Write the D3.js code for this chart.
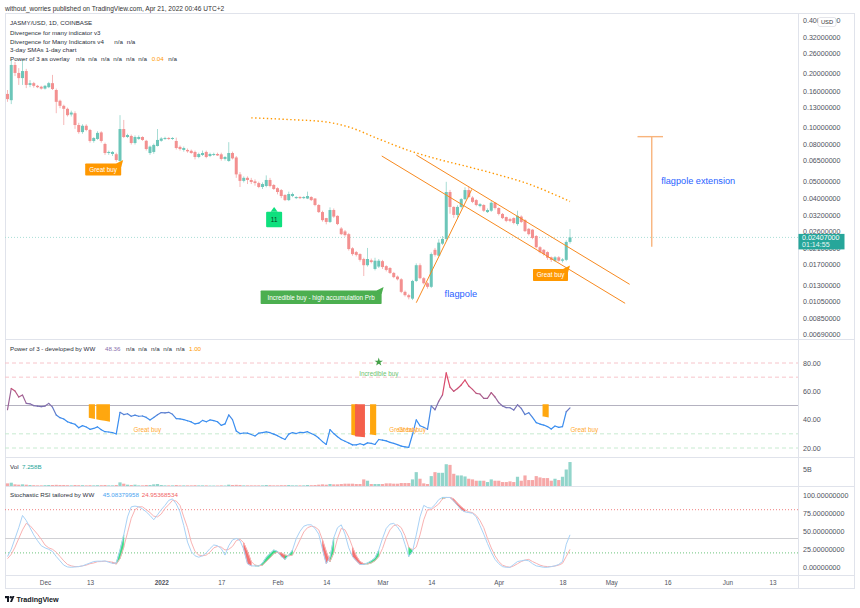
<!DOCTYPE html>
<html>
<head>
<meta charset="utf-8">
<script src="https://cdn.jsdelivr.net/npm/d3@7"></script>
<style>
  body { margin: 0; background: #fff; }
  svg { display: block; font-family: "Liberation Sans", Arial, sans-serif; }
</style>
</head>
<body>
<svg id="chart" width="860" height="608"></svg>
<script>
// ---- data ----
const firstDay = Date.UTC(2021, 10, 21)   // first daily candle
const DAY = 86400000

// [open, high, low, close] per day
const candles = [
  [0.154,0.162,0.139,0.144],[0.142,0.239,0.135,0.224],[0.224,0.233,0.194,0.202],[0.202,0.215,0.173,0.189],[0.189,0.239,0.173,0.207],
  [0.207,0.213,0.166,0.173],[0.173,0.184,0.168,0.177],[0.177,0.180,0.167,0.171],[0.171,0.173,0.166,0.168],[0.169,0.171,0.163,0.165],
  [0.165,0.173,0.163,0.171],[0.168,0.180,0.166,0.177],[0.177,0.197,0.162,0.164],[0.162,0.165,0.120,0.139],[0.141,0.143,0.128,0.132],
  [0.132,0.134,0.103,0.127],[0.127,0.129,0.115,0.117],[0.118,0.124,0.115,0.121],[0.120,0.123,0.098,0.103],[0.103,0.106,0.092,0.094],
  [0.094,0.104,0.092,0.102],[0.102,0.104,0.095,0.0966],[0.0966,0.098,0.082,0.0838],[0.0838,0.088,0.082,0.0871],[0.086,0.095,0.085,0.093],
  [0.0936,0.095,0.082,0.0838],[0.0806,0.082,0.070,0.0717],[0.0717,0.074,0.070,0.0727],[0.0708,0.0735,0.069,0.0727],[0.0706,0.072,0.064,0.0655],
  [0.0647,0.117,0.064,0.0978],[0.0978,0.110,0.087,0.0882],[0.0882,0.092,0.087,0.0905],[0.0894,0.091,0.080,0.0816],[0.0816,0.090,0.080,0.0882],
  [0.086,0.090,0.085,0.0882],[0.0882,0.089,0.084,0.0849],[0.084,0.085,0.074,0.0755],[0.0717,0.079,0.070,0.0779],[0.0727,0.081,0.071,0.0796],
  [0.0785,0.0978,0.078,0.0849],[0.084,0.088,0.083,0.0865],[0.086,0.0885,0.085,0.0871],[0.0871,0.088,0.085,0.086],[0.086,0.088,0.085,0.0871],
  [0.0838,0.0875,0.075,0.0765],[0.0776,0.079,0.074,0.0755],[0.0746,0.078,0.073,0.0765],[0.0746,0.076,0.072,0.0733],[0.0738,0.075,0.071,0.0717],
  [0.0727,0.074,0.066,0.0681],[0.0681,0.072,0.067,0.0708],[0.0699,0.074,0.069,0.0717],[0.0727,0.074,0.067,0.0681],[0.069,0.072,0.068,0.0708],
  [0.0699,0.072,0.069,0.0708],[0.0708,0.072,0.069,0.0695],[0.0705,0.072,0.065,0.0664],[0.0664,0.069,0.065,0.0681],[0.0647,0.0825,0.064,0.0717],
  [0.0717,0.073,0.066,0.0669],[0.0677,0.069,0.052,0.0544],[0.0544,0.056,0.0462,0.050],[0.050,0.053,0.049,0.052],[0.052,0.053,0.048,0.0506],
  [0.0506,0.052,0.048,0.0493],[0.0497,0.051,0.047,0.0486],[0.0486,0.0495,0.0455,0.0462],[0.0462,0.049,0.045,0.048],[0.0468,0.0537,0.046,0.0506],
  [0.0506,0.052,0.046,0.0468],[0.0474,0.048,0.0445,0.045],[0.0455,0.046,0.042,0.0433],[0.0444,0.045,0.040,0.0411],[0.0417,0.042,0.0385,0.039],
  [0.039,0.0435,0.0385,0.0422],[0.0411,0.043,0.0405,0.0422],[0.040,0.041,0.0395,0.0406],[0.0406,0.041,0.0395,0.040],[0.040,0.041,0.0395,0.0406],
  [0.0398,0.0435,0.0395,0.0411],[0.0406,0.041,0.0385,0.039],[0.0398,0.040,0.036,0.0366],[0.0366,0.037,0.033,0.0334],[0.0334,0.034,0.0295,0.0301],
  [0.0309,0.031,0.0285,0.0294],[0.0294,0.0355,0.029,0.0343],[0.0343,0.035,0.031,0.0315],[0.0318,0.032,0.0282,0.0286],[0.0270,0.0275,0.0248,0.0251],
  [0.026,0.0265,0.0243,0.0248],[0.0251,0.0255,0.0203,0.0207],[0.0209,0.0212,0.019,0.0194],[0.0199,0.0202,0.0188,0.0192],[0.0194,0.0196,0.0176,0.018],
  [0.0182,0.0185,0.0146,0.0168],[0.0168,0.021,0.0165,0.0182],[0.0179,0.0183,0.0172,0.0175],[0.016,0.0185,0.0157,0.0178],[0.0165,0.0182,0.0162,0.0178],
  [0.0177,0.018,0.016,0.0164],[0.0166,0.0168,0.0155,0.0158],[0.0162,0.0164,0.015,0.0152],[0.0152,0.0154,0.0142,0.0144],[0.0145,0.0147,0.0138,0.014],
  [0.014,0.0142,0.0117,0.0119],[0.0119,0.0121,0.0112,0.0114],[0.0114,0.0116,0.0108,0.0111],[0.0109,0.0139,0.0107,0.0137],[0.0137,0.0172,0.0135,0.0168],
  [0.0168,0.0172,0.014,0.0142],[0.0142,0.0144,0.0131,0.0133],[0.0133,0.0135,0.0124,0.0127],[0.0127,0.0198,0.0125,0.0194],[0.0205,0.021,0.0188,0.0192],
  [0.019,0.0235,0.0188,0.0225],[0.0222,0.0245,0.0218,0.0236],[0.0236,0.0494,0.023,0.0433],[0.0433,0.0445,0.0327,0.0357],[0.0357,0.036,0.031,0.0322],
  [0.0322,0.0365,0.031,0.0357],[0.0357,0.040,0.035,0.0395],[0.0395,0.046,0.039,0.0444],[0.0444,0.0465,0.040,0.0406],[0.0403,0.041,0.0375,0.0381],
  [0.039,0.0395,0.036,0.0366],[0.0361,0.0375,0.0355,0.037],[0.0366,0.037,0.0335,0.034],[0.0334,0.035,0.033,0.0343],[0.034,0.0385,0.0335,0.0377],
  [0.0377,0.038,0.0345,0.0352],[0.0352,0.0355,0.032,0.0326],[0.0326,0.033,0.0305,0.0309],[0.0313,0.0315,0.0293,0.0298],[0.0305,0.031,0.0293,0.0298],
  [0.0309,0.0312,0.0285,0.029],[0.0286,0.034,0.028,0.0318],[0.0315,0.032,0.029,0.0294],[0.0301,0.0305,0.0258,0.0261],[0.0269,0.0272,0.0247,0.0251],
  [0.0266,0.0268,0.0235,0.0239],[0.0245,0.0248,0.0209,0.0212],[0.0212,0.0215,0.0196,0.0199],[0.0205,0.0207,0.019,0.0194],[0.0199,0.0201,0.018,0.0185],
  [0.0186,0.0188,0.0175,0.018],[0.0178,0.0189,0.0175,0.0186],[0.0186,0.0189,0.0176,0.0178],[0.0178,0.0184,0.0174,0.0181],[0.018,0.0232,0.0177,0.0227],
  [0.0227,0.0268,0.0222,0.02407]
]

// volume, billions
const volumes = [
  0.8,1.0,0.5,0.4,0.5,0.4,0.3,0.25,0.2,0.2, 0.25,0.3,0.3,0.35,0.3,0.3,0.25,0.2,0.3,0.25,
  0.25,0.2,0.25,0.2,0.25,0.25,0.3,0.2,0.2,0.3, 1.1,0.7,0.4,0.3,0.4,0.2,0.2,0.3,0.3,0.5,
  0.6,0.3,0.2,0.2,0.2,0.3,0.2,0.2,0.2,0.2, 0.25,0.2,0.2,0.2,0.15,0.15,0.15,0.2,0.15,0.4,
  0.3,0.35,0.3,0.2,0.2,0.2,0.2,0.2,0.2,0.3, 0.25,0.2,0.2,0.25,0.25,0.3,0.2,0.2,0.2,0.2,
  0.3,0.25,0.3,0.4,0.5,0.4,0.6,0.5,0.5,0.6, 0.7,0.7,0.7,0.6,0.6,2.0,1.6,0.6,0.6,0.6,
  0.6,0.8,0.8,0.7,0.7,0.9,0.9,0.9,2.0,4.2, 2.2,0.8,0.6,3.0,4.2,4.0,4.0,6.6,6.4,3.7,
  3.2,3.2,2.9,2.2,2.0,1.6,1.6,1.6,1.2,2.0, 1.6,1.6,1.2,1.2,1.4,1.2,2.8,1.6,3.2,1.8,
  1.8,3.0,2.6,2.4,2.4,1.6,2.2,1.8,2.8,5.0, 7.258
]

// "Power of 3" oscillator
const power3 = [
  47,62,60.2,56,57.4,51.5,51.2,49.9,49.5,49.2, 49.6,51.5,48.8,43.3,41.4,40.5,38.5,37.6,36.8,34.3,
  35.8,34.8,33.2,33.8,34.9,32.9,31.5,31.3,30.9,29.9, 45.2,43.6,44.2,42.4,43.2,42.4,42.6,41.6,39.8,41.6,
  43.5,45,44.8,45.2,43.8,40.8,40.5,40,39.2,38.4, 37,37.5,39.5,38.5,39.8,39.3,38.5,36,37,43.3,
  40,32,30.2,30.6,30.5,29.5,28.5,30.5,30.8,31.4, 30.8,29.8,28.7,27.2,26,29.8,30.9,30.2,31,30.9,
  31.5,30.2,29,27,24.5,22.5,33,30.2,28,26, 24.8,23.5,22.2,22.2,23,22.2,23.6,23.3,22.5,26,
  25.5,25,24,23.3,22.4,21.3,20.8,20.5,29.5,39.8, 35.7,34.6,33.2,49.7,47,53,57.5,73,63,60,
  62,64.5,68,63.8,61.4,58.6,58.1,55.1,55.1,59.1, 56,52,49.7,48.5,48.4,46.8,50.5,48,43.6,44.9,
  41.6,37.9,36.9,36.2,35.1,33.4,35.5,34.6,35.1,45.6, 48.36
]
// signal columns hanging from the 50 line: [day index, value] lists
const powerSignals = [
  { type: 'great', pts: [[23, 42], [24, 41.5]] },
  { type: 'great', pts: [[25, 41], [26, 40.5], [27, 40], [28, 39.5]] },
  { type: 'great', pts: [[93, 30], [94, 29.5]] },
  { type: 'incredible', pts: [[94, 29], [95, 28.8], [96, 28.5]] },
  { type: 'great', pts: [[98, 30.3], [99, 30]] },
  { type: 'great', pts: [[144, 43], [145, 42.6]] }
]

// Stochastic RSI
const stochK = [
  15,25,40,55,72,65,55,45,37,30, 27,25,22,15,9,3,0.5,0,0.5,1,
  2,4,6,8,8.5,8.5,8.8,7,5.5,6, 24,45,70,84,85,84,81,77,72,66,
  73,80,86,93,95,88,77,58,35,22, 16,14,16,20,26,31,30,26,17,30,
  38,40,37,25,5,2,1.8,1.8,6,14, 19,24,22,15,11,17,24,40,50,57,
  59,59,54,46,25,5,14,41,55,59, 46,27,15,9,4,4,6,9,13,24,
  40,54,60,61,56,48,32,15,22,45, 70,86,83,82,87,94,97,97,97,92,
  86,80,77,76,75,70,58,46,33,21, 11,5,1,0,0,4,8,9,10,9,
  5,2,1,0,0,1,2,4,8,32, 45.08
]
const stochD = [
  12,18,28,40,52,61,58,52,46,39, 31,27,25,21,15,9,4,2,1,1,
  2,3,5,6,7.8,8,8.5,8,7,4.5, 12,28,48,68,80,84,84,80,76,71,
  70,74,82,87,93,92,86,70,55,35, 22,17,16,17,21,27,29,28,24,25,
  29,37,39,34,22,8,3,2,3,8, 13,19,21,20,17,16,17,27,38,49,
  55,57,56,52,38,22,8,20,40,54, 52,42,28,16,8,5,4.5,6,9,15,
  26,41,52,58,59,55,44,28,24,28, 45,66,80,80,84,88,95,97,97,95,
  89,84,80,77,76,72,65,55,40,27, 16,8,3,1,0,2,5,8,10,11,
  8,5.5,3,1.5,1,1,1.8,3,5.5,15, 24.95
]
const stochFills = [[29,30,'down'],[30,32,'up'],[64,66,'down'],[67,73,'up'],[73,75,'down'],[75,77,'up'],
  [85,87,'down'],[87,88,'up'],[93,96,'down'],[96,100,'up'],[108,109,'up'],[117,118,'up'],[119,123,'down']]

// dotted SMA overlay, [day index, price]
const smaPoints = [[66,0.113],[76,0.1106],[86,0.1071],[92,0.1004],[100,0.086],[108,0.0741],[116,0.066],
  [124,0.0599],[132,0.054],[140,0.048],[146,0.0427],[151,0.0383]]

// drawn trend lines, [day index, price] pairs
const trendLines = [
  [[110, 0.01034], [124.8, 0.0448]],   // flagpole
  [[100.8, 0.069], [165.7, 0.01026]],  // channel lower
  [[110, 0.0699], [166.9, 0.01312]]    // channel upper
]
const poleExtension = { idx: 172.8, top: 0.0886, bottom: 0.02134, capFrom: 169, capTo: 175.8 }

const lastPrice = 0.02407
const priceTicks = [0.4,0.32,0.26,0.2,0.16,0.13,0.1,0.08,0.065,0.05,0.04,0.032,0.026,0.021,0.017,0.013,0.0105,0.0085,0.0069]
const powerTicks = [80, 60, 40, 20]
const stochTicks = [100, 75, 50, 25, 0]
const volTicks = [5]
const tickDates = [[2021,11,1],[2021,11,13],[2022,0,1],[2022,0,17],[2022,1,1],[2022,1,14],[2022,2,1],
  [2022,2,14],[2022,3,1],[2022,3,18],[2022,4,1],[2022,4,16],[2022,5,1],[2022,5,13]].map(d => new Date(Date.UTC(...d)))
const tickLabels = ['Dec','13','2022','17','Feb','14','Mar','14','Apr','18','May','16','Jun','13']

// ---- layout ----
const left = 5, plotRight = 798, axisRight = 854
const paneMain = { top: 13, bottom: 339 }
const panePower = { top: 339, bottom: 457 }
const paneVol = { top: 457, bottom: 486 }
const paneStoch = { top: 486, bottom: 575 }
const frameBottom = 588

const upColor = '#6cc6b9', downColor = '#f39090'
const upWick = '#a6dcd4', downWick = '#f6b8b8'
const volUp = '#92d5cb', volDown = '#f6a8a8'
const orange = '#ff9800'
const axisColor = '#50535e'
const lineColor = '#e0e3eb'
const legendSize = 6.2
const axisSize = 7.1
const timeSize = 6.4

const svg = d3.select('#chart')
const dateAt = i => new Date(firstDay + (i - 1) * DAY)

const x = d3.scaleUtc()
  .domain([new Date(Date.UTC(2021, 11, 1)), new Date(Date.UTC(2022, 5, 13))])
  .range([45, 772.5])
const xi = i => x(dateAt(i))
const y = d3.scaleLog().domain([0.1, 0.01]).range([127.3, 305.3])
const yp = d3.scaleLinear().domain([80, 20]).range([363, 448])
const yv = d3.scaleLinear().domain([0, 5]).range([486, 469.5])
const ys = d3.scaleLinear().domain([100, 0]).range([495.3, 567.3])

// clip paths
const defs = svg.append('defs')
function clip(id, pane) {
  defs.append('clipPath').attr('id', id).append('rect')
    .attr('x', left).attr('y', pane.top).attr('width', plotRight - left).attr('height', pane.bottom - pane.top)
}
clip('clipMain', paneMain)
clip('clipPower', panePower)
clip('clipVol', paneVol)
clip('clipStoch', paneStoch)

// ---- frame & separators ----
const frame = svg.append('g').attr('stroke', lineColor).attr('stroke-width', 1)
frame.append('rect').attr('x', left + 0.5).attr('y', paneMain.top + 0.5)
  .attr('width', axisRight - left).attr('height', frameBottom - paneMain.top).attr('fill', 'none')
;[panePower.top, paneVol.top, paneStoch.top, paneStoch.bottom].forEach(v => {
  frame.append('line').attr('x1', left).attr('x2', axisRight).attr('y1', v + 0.5).attr('y2', v + 0.5)
})
frame.append('line').attr('x1', plotRight + 0.5).attr('x2', plotRight + 0.5).attr('y1', paneMain.top).attr('y2', frameBottom)

// ---- main pane ----
const mainG = svg.append('g').attr('clip-path', 'url(#clipMain)')

mainG.append('line')
  .attr('x1', left).attr('x2', plotRight).attr('y1', y(lastPrice)).attr('y2', y(lastPrice))
  .attr('stroke', '#a9ded6').attr('stroke-dasharray', '1,2').attr('stroke-width', 1)

mainG.selectAll('line.wick').data(candles).join('line').attr('class', 'wick')
  .attr('x1', (d, i) => xi(i + 1)).attr('x2', (d, i) => xi(i + 1))
  .attr('y1', d => y(d[1])).attr('y2', d => y(d[2]))
  .attr('stroke', d => d[3] >= d[0] ? upWick : downWick).attr('stroke-width', 1)

mainG.selectAll('rect.body').data(candles).join('rect').attr('class', 'body')
  .attr('x', (d, i) => xi(i + 1) - 1.5).attr('width', 3)
  .attr('y', d => y(Math.max(d[0], d[3])))
  .attr('height', d => Math.max(1, Math.abs(y(d[0]) - y(d[3]))))
  .attr('fill', d => d[3] >= d[0] ? upColor : downColor)

// dotted SMA
mainG.append('path').datum(smaPoints)
  .attr('d', d3.line().curve(d3.curveMonotoneX).x(d => xi(d[0])).y(d => y(d[1])))
  .attr('fill', 'none').attr('stroke', orange).attr('stroke-width', 1.4)
  .attr('stroke-dasharray', '1.4,2.5')

// trend lines
mainG.selectAll('line.trend').data(trendLines).join('line').attr('class', 'trend')
  .attr('x1', d => xi(d[0][0])).attr('y1', d => y(d[0][1]))
  .attr('x2', d => xi(d[1][0])).attr('y2', d => y(d[1][1]))
  .attr('stroke', '#f7891f').attr('stroke-width', 1)

// flagpole extension
const ext = mainG.append('g').attr('stroke', '#f8b47c').attr('stroke-width', 1.4)
ext.append('line').attr('x1', xi(poleExtension.idx)).attr('x2', xi(poleExtension.idx))
  .attr('y1', y(poleExtension.top)).attr('y2', y(poleExtension.bottom))
ext.append('line').attr('x1', xi(poleExtension.capFrom)).attr('x2', xi(poleExtension.capTo))
  .attr('y1', y(poleExtension.top)).attr('y2', y(poleExtension.top))

mainG.append('text').attr('x', xi(121.9)).attr('y', y(0.01158)).attr('dy', '0.35em')
  .attr('text-anchor', 'middle').attr('font-size', 9.3).attr('fill', '#2962ff').text('flagpole')
mainG.append('text').attr('x', xi(175.3)).attr('y', y(0.0499)).attr('dy', '0.35em')
  .attr('font-size', 9.2).attr('fill', '#2962ff').text('flagpole extension')

// labels pointing up-right to a candle
function tagUpRight(idx, price, w, h, fill, label) {
  const tx = xi(idx), ty = y(price)
  const g = mainG.append('g')
  g.append('rect').attr('x', tx - 2 - w).attr('y', ty + 3.5).attr('width', w).attr('height', h)
    .attr('fill', fill).attr('rx', 0.8)
  g.append('path').attr('d', `M${tx - 7},${ty + 3.6} L${tx},${ty} L${tx - 2},${ty + 7}Z`).attr('fill', fill)
  g.append('text').attr('x', tx - 2 - w / 2).attr('y', ty + 3.5 + h / 2).attr('dy', '0.35em')
    .attr('text-anchor', 'middle').attr('font-size', 6.3).attr('fill', '#fff').text(label)
}
tagUpRight(31.85, 0.0655, 36, 12, orange, 'Great buy')
tagUpRight(151, 0.01675, 35, 12, orange, 'Great buy')
tagUpRight(101.3, 0.01267, 121, 13.6, '#4caf50', 'Incredible buy - high accumulation Prb')

// "11" label-up marker
{
  const tx = xi(72.1), ty = y(0.0357)
  const g = mainG.append('g')
  g.append('path').attr('d', `M${tx - 3.5},${ty + 4.8} L${tx},${ty} L${tx + 3.5},${ty + 4.8}Z`).attr('fill', '#0fe07e')
  g.append('rect').attr('x', tx - 8).attr('y', ty + 4.7).attr('width', 16).attr('height', 15.6)
    .attr('rx', 1).attr('fill', '#0fe07e')
  g.append('text').attr('x', tx).attr('y', ty + 12.5).attr('dy', '0.35em').attr('text-anchor', 'middle')
    .attr('font-size', 6.3).attr('fill', '#0b3b22').text('11')
}

// ---- power of 3 pane ----
const powG = svg.append('g').attr('clip-path', 'url(#clipPower)')
;[[80, '#f7c4ca'], [70, '#f7c4ca'], [30, '#c7ead0'], [20, '#c7ead0']].forEach(([v, c]) => {
  powG.append('line').attr('x1', left).attr('x2', plotRight).attr('y1', yp(v)).attr('y2', yp(v))
    .attr('stroke', c).attr('stroke-dasharray', '4,3')
})
powG.append('line').attr('x1', left).attr('x2', plotRight).attr('y1', yp(50)).attr('y2', yp(50))
  .attr('stroke', '#b4b2c0').attr('stroke-width', 1)

const sigArea = d3.area().x(d => xi(d[0])).y0(yp(50)).y1(d => yp(d[1]))
powG.selectAll('path.sig').data(powerSignals).join('path').attr('class', 'sig')
  .attr('d', d => sigArea(d.pts))
  .attr('fill', d => d.type === 'great' ? '#ffa70f' : '#f4604c')
  .attr('stroke', d => d.type === 'great' ? '#ffa70f' : '#f4604c').attr('stroke-width', 2.4)

const powerColor = d3.scaleLinear().domain([40, 50, 60, 72])
  .range(['#3a8ef0', '#7f6fae', '#c0537a', '#f2445e']).clamp(true)
powG.selectAll('line.pw').data(d3.range(power3.length - 1)).join('line').attr('class', 'pw')
  .attr('x1', i => xi(i + 1)).attr('y1', i => yp(power3[i]))
  .attr('x2', i => xi(i + 2)).attr('y2', i => yp(power3[i + 1]))
  .attr('stroke', i => powerColor((power3[i] + power3[i + 1]) / 2))
  .attr('stroke-width', 1.2).attr('stroke-linecap', 'round')

// star + labels
{
  const sx = xi(100), sy = yp(80.7)
  const star = d3.symbol().type(d3.symbolStar).size(22)
  powG.append('path').attr('d', star()).attr('transform', `translate(${sx},${sy})`).attr('fill', '#43a047')
  powG.append('text').attr('x', sx).attr('y', yp(72.2)).attr('dy', '0.35em').attr('text-anchor', 'middle')
    .attr('font-size', 6.3).attr('fill', '#6cc36f').text('Incredible buy')
}
;[38.3, 106.5, 108.9, 154.8].forEach(i => {
  powG.append('text').attr('x', xi(i)).attr('y', yp(32.7)).attr('dy', '0.35em').attr('text-anchor', 'middle')
    .attr('font-size', 6.3).attr('fill', '#ffaa33').text('Great buy')
})

// ---- volume pane ----
const volG = svg.append('g').attr('clip-path', 'url(#clipVol)')
volG.selectAll('rect').data(volumes).join('rect')
  .attr('x', (d, i) => xi(i + 1) - 1.6).attr('width', 3.2)
  .attr('y', d => yv(d)).attr('height', d => yv(0) - yv(d))
  .attr('fill', (d, i) => candles[i][3] >= candles[i][0] ? volUp : volDown)

// ---- stochastic RSI pane ----
const stG = svg.append('g').attr('clip-path', 'url(#clipStoch)')
stG.append('line').attr('x1', left).attr('x2', plotRight).attr('y1', ys(80)).attr('y2', ys(80))
  .attr('stroke', '#f08080').attr('stroke-dasharray', '1,2')
stG.append('line').attr('x1', left).attr('x2', plotRight).attr('y1', ys(40)).attr('y2', ys(40))
  .attr('stroke', '#cfd0d4')
stG.append('line').attr('x1', left).attr('x2', plotRight).attr('y1', ys(20)).attr('y2', ys(20))
  .attr('stroke', '#6cc47c').attr('stroke-dasharray', '1,2')

const fillArea = d3.area().x(i => xi(i)).y0(i => ys(stochK[i - 1])).y1(i => ys(stochD[i - 1]))
stG.selectAll('path.fill').data(stochFills).join('path').attr('class', 'fill')
  .attr('d', d => fillArea(d3.range(d[0], d[1] + 1)))
  .attr('fill', d => d[2] === 'up' ? '#19d873' : '#f25a5a')
  .attr('stroke', d => d[2] === 'up' ? '#19d873' : '#f25a5a').attr('stroke-width', 0.6)
  .attr('opacity', 0.85)

const stLine = d3.line().x((d, i) => xi(i + 1)).y(d => ys(d))
stG.append('path').datum(stochD).attr('d', stLine).attr('fill', 'none')
  .attr('stroke', '#f9b2b2').attr('stroke-width', 1)
stG.append('path').datum(stochK).attr('d', stLine).attr('fill', 'none')
  .attr('stroke', '#a9d2f6').attr('stroke-width', 1)

// ---- axes ----
function rightAxis(scale, ticks, fmt) {
  const g = svg.append('g').attr('transform', `translate(${plotRight},0)`)
    .call(d3.axisRight(scale).tickValues(ticks).tickFormat(fmt).tickSize(0).tickPadding(5))
  g.select('.domain').remove()
  g.selectAll('text').attr('font-size', axisSize).attr('fill', axisColor)
    .attr('font-family', '"Liberation Sans", Arial, sans-serif')
  return g
}
rightAxis(y, priceTicks, d3.format('.8f'))
rightAxis(yp, powerTicks, d3.format('.2f'))
rightAxis(yv, volTicks, d => d + 'B')
rightAxis(ys, stochTicks, d3.format('.8f'))

const xAxis = svg.append('g').attr('transform', `translate(0,${paneStoch.bottom})`)
  .call(d3.axisBottom(x).tickValues(tickDates).tickFormat((d, i) => tickLabels[i]).tickSize(0).tickPadding(5.3))
xAxis.select('.domain').remove()
xAxis.selectAll('text').attr('font-size', timeSize).attr('fill', axisColor)
  .attr('font-family', '"Liberation Sans", Arial, sans-serif')
  .attr('font-weight', (d, i) => tickLabels[i] === '2022' ? 'bold' : null)

// last price tag
{
  const g = svg.append('g')
  g.append('rect').attr('x', plotRight + 0.5).attr('y', y(lastPrice) - 3.5).attr('width', 46).attr('height', 15.5)
    .attr('fill', '#26a69a')
  g.append('text').attr('x', plotRight + 4).attr('y', y(lastPrice) + 2.4).attr('font-size', axisSize)
    .attr('fill', '#fff').text(d3.format('.8f')(lastPrice))
  g.append('text').attr('x', plotRight + 4).attr('y', y(lastPrice) + 9.8).attr('font-size', axisSize)
    .attr('fill', '#e6f6f4').text('01:14:55')
}
// currency badge
svg.append('rect').attr('x', 818).attr('y', 17.5).attr('width', 18).attr('height', 9).attr('rx', 2)
  .attr('fill', '#fff').attr('stroke', '#d1d4dc').attr('stroke-width', 0.6)
svg.append('text').attr('x', 827).attr('y', 24.3).attr('text-anchor', 'middle').attr('font-size', 5.8)
  .attr('fill', '#333').text('USD')

// ---- header & legends ----
svg.append('text').attr('x', 5).attr('y', 10.5).attr('font-size', 6.6).attr('fill', '#333')
  .text('without_worries published on TradingView.com, Apr 21, 2022 00:46 UTC+2')

function legend(yBase, parts) {
  const t = svg.append('text').attr('y', yBase).attr('font-size', legendSize).attr('fill', '#2a2e39')
  parts.forEach(p => t.append('tspan').attr('x', p[1]).attr('fill', p[2] || '#2a2e39').text(p[0]))
}
legend(25, [['JASMY/USD, 1D, COINBASE', 10]])
legend(35, [['Divergence for many indicator v3', 10]])
legend(43.5, [['Divergence for Many Indicators v4', 10], ['n/a', 114.3], ['n/a', 126.7]])
legend(52.3, [['3-day SMAs 1-day chart', 10]])
legend(60.8, [['Power of 3 as overlay', 10], ['n/a', 76], ['n/a', 88.3], ['n/a', 101], ['n/a', 113.3],
  ['n/a', 126], ['n/a', 138.3], ['0.04', 151.7, orange], ['n/a', 168.3]])
legend(351, [['Power of 3 - developed by WW', 10], ['48.36', 105, '#8a6fab'], ['n/a', 126], ['n/a', 138.3],
  ['n/a', 151], ['n/a', 163.3], ['n/a', 176], ['1.00', 189, orange]])
legend(468.5, [['Vol', 10], ['7.258B', 22, '#26a69a']])
legend(497, [['Stochastic RSI tailored by WW', 10], ['45.08379958', 102.7, '#4aa3f0'], ['24.95368534', 141.7, '#f06464']])

// ---- footer logo ----
{
  const g = svg.append('g').attr('fill', '#131722')
  g.append('rect').attr('x', 5).attr('y', 596).attr('width', 4).attr('height', 2.2)
  g.append('rect').attr('x', 7).attr('y', 596).attr('width', 2).attr('height', 6)
  g.append('circle').attr('cx', 10.8).attr('cy', 597.2).attr('r', 1.2)
  g.append('path').attr('d', 'M12.5,596 L14.5,596 L12,602 L10,602Z')
  g.append('text').attr('x', 16.5).attr('y', 601.5).attr('font-size', 7.2).attr('font-weight', 'bold')
    .text('TradingView')
}
</script>
</body>
</html>
